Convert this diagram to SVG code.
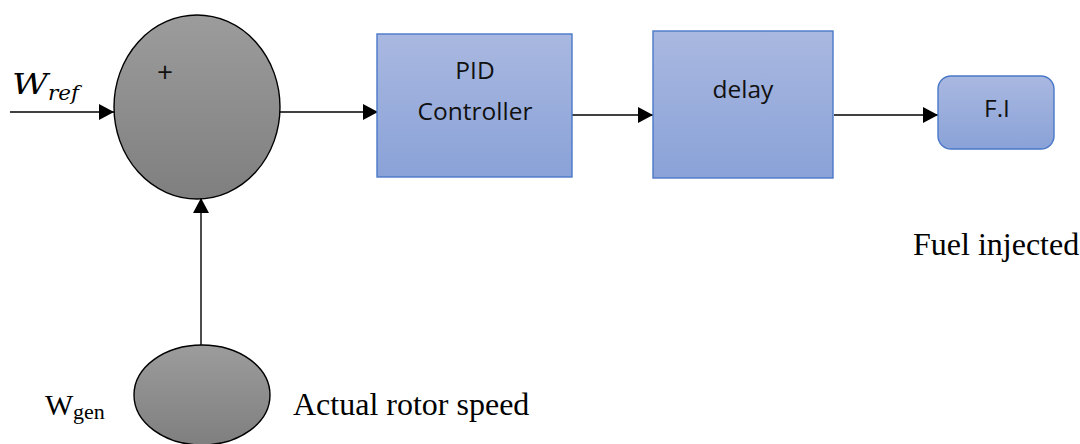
<svg xmlns="http://www.w3.org/2000/svg" width="1080" height="444" viewBox="0 0 1080 444">
<style>
.sum{stroke:#000;stroke-width:1.4;fill:url(#gray)}
.box{stroke:#4a78c8;stroke-width:1.4;fill:url(#blue)}
.conn{stroke:#000;stroke-width:1.4;fill:none;marker-end:url(#arr)}
.lbl{font-family:"Open Sans","Liberation Sans",sans-serif;font-size:24.5px;fill:#111;text-anchor:middle}
.tr{font-family:"Liberation Serif","Times New Roman",serif;fill:#000}
.math{font-family:"DejaVu Serif","Liberation Serif",serif;font-style:italic;fill:#000}
</style>
<defs>
<linearGradient id="gray" x1="0" y1="0" x2="0" y2="1">
<stop offset="0" stop-color="#9c9c9c"/>
<stop offset="1" stop-color="#7f7f7f"/>
</linearGradient>
<linearGradient id="blue" x1="0" y1="0" x2="0" y2="1">
<stop offset="0" stop-color="#a9b8e0"/>
<stop offset="1" stop-color="#8aa2d8"/>
</linearGradient>
<marker id="arr" viewBox="0 0 15 16" refX="15" refY="8" markerWidth="15" markerHeight="16" markerUnits="userSpaceOnUse" orient="auto">
<path d="M0,0 L15,8 L0,16 Z" fill="#000"/>
</marker>
</defs>
<g id="connectors">
<line class="conn" x1="10" y1="112" x2="114" y2="112"/>
<line class="conn" x1="280" y1="112" x2="378" y2="112"/>
<line class="conn" x1="568" y1="115" x2="653" y2="115"/>
<line class="conn" x1="834" y1="115" x2="938" y2="115"/>
<line class="conn" x1="201" y1="345" x2="201" y2="198"/>
</g>
<g id="wref">
<text class="math" x="12" y="94" font-size="28" textLength="36" lengthAdjust="spacingAndGlyphs">W</text>
<text class="math" x="48" y="100" font-size="20" textLength="31" lengthAdjust="spacingAndGlyphs">ref</text>
</g>
<g id="sum">
<ellipse class="sum" cx="197" cy="107" rx="83" ry="92"/>
<text x="165" y="82" font-family="Open Sans, Liberation Sans, sans-serif" font-size="28" text-anchor="middle" fill="#111">+</text>
</g>
<g id="pid">
<rect class="box" x="377" y="34" width="195" height="143"/>
<text class="lbl" x="475" y="79">PID</text>
<text class="lbl" x="475" y="120">Controller</text>
</g>
<g id="delay">
<rect class="box" x="653" y="31" width="180" height="147"/>
<text class="lbl" x="743" y="98">delay</text>
</g>
<g id="fi">
<rect class="box" x="938" y="76" width="116" height="73" rx="13" ry="13"/>
<text class="lbl" x="997" y="117">F.I</text>
</g>
<g id="fuel-label">
<text class="tr" x="913" y="255" font-size="32">Fuel injected</text>
</g>
<g id="gen">
<ellipse class="sum" cx="202" cy="395" rx="68" ry="50"/>
</g>
<g id="wgen">
<text class="tr" x="45" y="415" font-size="30">W</text>
<text class="tr" x="73" y="419" font-size="22">gen</text>
</g>
<g id="rotor-label">
<text class="tr" x="293" y="415" font-size="32">Actual rotor speed</text>
</g>
</svg>
